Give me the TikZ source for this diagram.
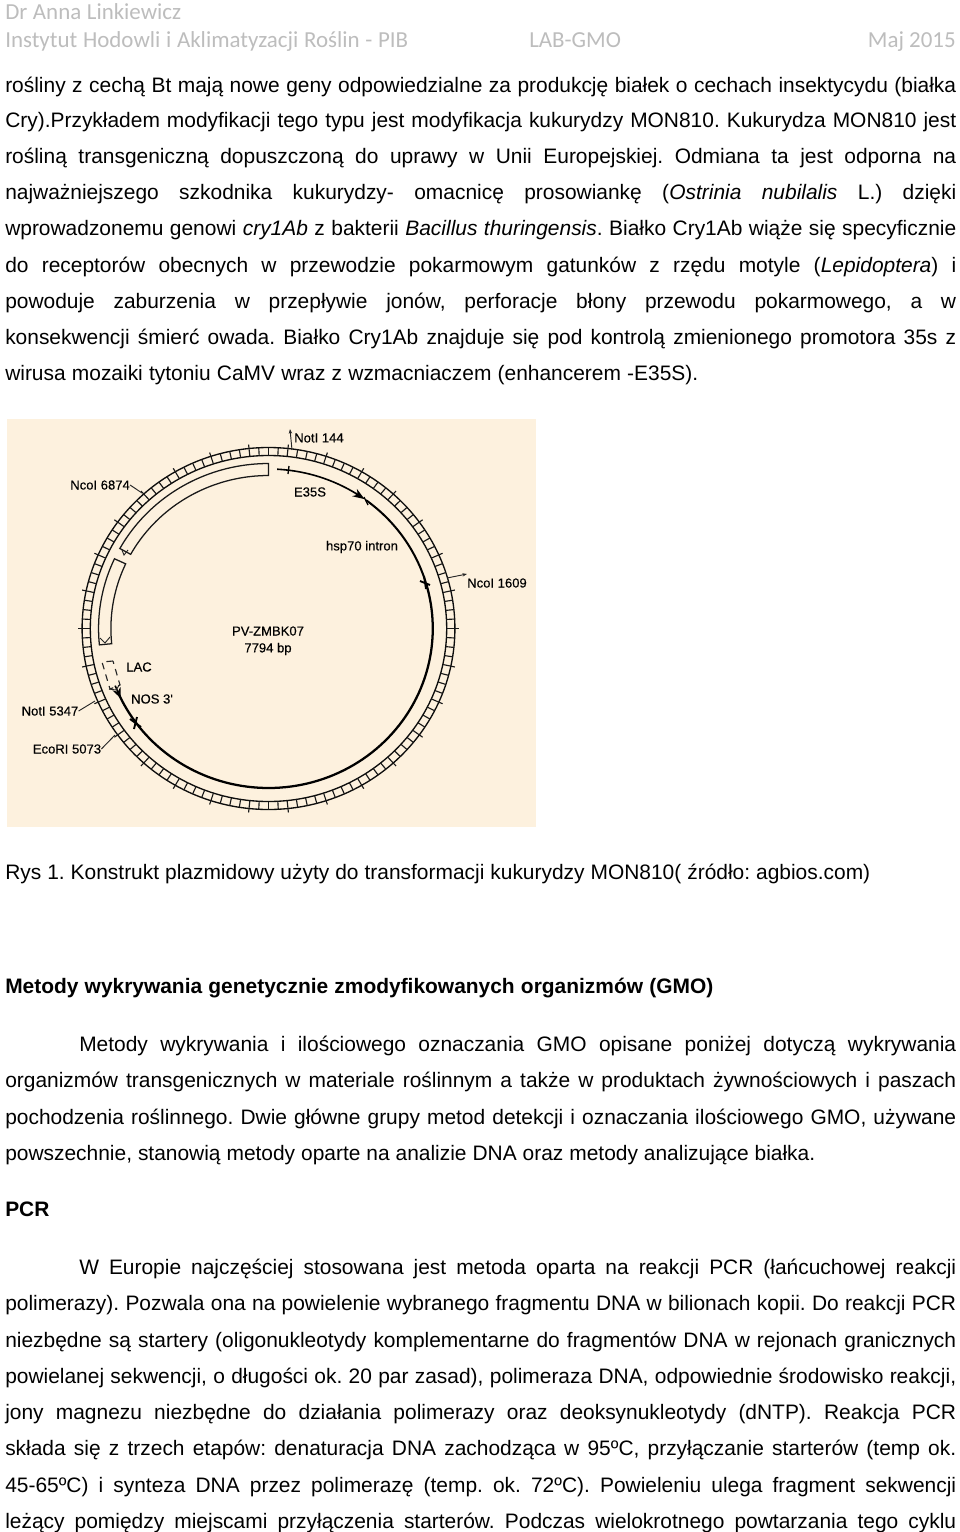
\documentclass[tikz,border=0pt]{standalone}
\usepackage{fontspec}
\setmainfont{Liberation Sans}
\newfontfamily\hdrfont{Carlito}
\newfontfamily\labfont[FakeBold=0.3]{Liberation Sans}
\usetikzlibrary{arrows.meta}
\frenchspacing
\newdimen\unitpx \unitpx=0.75pt
\definecolor{plasbg}{HTML}{FDF1DE}
\definecolor{hdrgray}{HTML}{BDBDBD}
\newcommand{\tl}[4]{\node[txt] (t#1) at (#2,#1+7) {\makebox[#3\unitpx][s]{#4}};}
\newcommand{\hl}[4]{\node[hdr] (h#1) at (#2,#1+7) {\makebox[#3\unitpx][s]{#4}};}
\tikzset{
  txt/.style={anchor=base west,inner sep=0pt,font=\fontsize{15.7}{18}\selectfont},
  hdr/.style={anchor=base west,inner sep=0pt,text=hdrgray,font=\hdrfont\fontsize{17.2}{18}\selectfont},
  lab/.style={inner sep=0pt,text=black,font=\labfont\fontsize{9.8}{11}\selectfont},
  ringline/.style={line width=1pt,black!95},
  tickline/.style={line width=0.85pt,black!90},
  boxline/.style={line width=0.95pt,black!90},
  lead/.style={line width=0.7pt,black!85},
  gene/.style={line width=1.7pt,black},
  crossmark/.style={line width=1.4pt,black},
  declare function={px(\a,\r)=268.5+1.03*\r*cos(\a);py(\a,\r)=628.5-\r*sin(\a);}
}
\begin{document}
\begin{tikzpicture}[x=0.75pt,y=-0.75pt]
\useasboundingbox (0,0) rectangle (960,1532);
\fill[white] (0,0) rectangle (960,1532);
% header
\hl{12}{5}{176}{Dr Anna Linkiewicz}
\hl{40}{5}{403}{Instytut Hodowli i Aklimatyzacji Roślin - PIB}
\node[hdr] (hlab) at (529,47) {LAB-GMO};
\node[hdr,anchor=base east] (hmaj) at (956,47) {Maj 2015};
% first paragraph
\tl{85}{5}{951}{rośliny z cechą Bt mają nowe geny odpowiedzialne za produkcję białek o cechach insektycydu (białka}
\tl{120}{5}{951}{Cry).Przykładem modyfikacji tego typu jest modyfikacja kukurydzy MON810. Kukurydza MON810 jest}
\tl{156}{5}{951}{rośliną transgeniczną dopuszczoną do uprawy w Unii Europejskiej. Odmiana ta jest odporna na}
\tl{192}{5}{951}{najważniejszego szkodnika kukurydzy- omacnicę prosowiankę (\textit{Ostrinia nubilalis} L.) dzięki}
\tl{228}{5}{951}{wprowadzonemu genowi \textit{cry1Ab} z bakterii \textit{Bacillus thuringensis}. Białko Cry1Ab wiąże się specyficznie}
\tl{265}{5}{951}{do receptorów obecnych w przewodzie pokarmowym gatunków z rzędu motyle (\textit{Lepidoptera}) i}
\tl{301}{5}{951}{powoduje zaburzenia w przepływie jonów, perforacje błony przewodu pokarmowego, a w}
\tl{337}{5}{951}{konsekwencji śmierć owada. Białko Cry1Ab znajduje się pod kontrolą zmienionego promotora 35s z}
\tl{373}{5}{693}{wirusa mozaiki tytoniu CaMV wraz z wzmacniaczem (enhancerem -E35S).}
% plasmid background
\fill[plasbg] (7,419) rectangle (536,827);
% ruler ring
\draw[ringline] (268.5,628.5) ellipse [x radius=186.4,y radius=181];
\draw[ringline] (268.5,628.5) ellipse [x radius=178.2,y radius=173];
\foreach \i in {0,...,119}{
  \pgfmathsetmacro{\ang}{\i*3}
  \draw[tickline] ({px(\ang,173)},{py(\ang,173)}) -- ({px(\ang,181)},{py(\ang,181)});
}
\foreach \i in {0,...,29}{
  \pgfmathsetmacro{\ang}{\i*12}
  \draw[tickline] ({px(\ang,181)},{py(\ang,181)}) -- ({px(\ang,185)},{py(\ang,185)});
}
% open boxes
\draw[boxline] plot[domain=90:151,samples=40] ({px(\x,165)},{py(\x,165)}) -- plot[domain=151:90,samples=40] ({px(\x,153)},{py(\x,153)}) -- cycle;
\draw[boxline] plot[domain=155:185.7,samples=25] ({px(\x,165)},{py(\x,165)}) -- plot[domain=185.7:155,samples=25] ({px(\x,153)},{py(\x,153)}) -- cycle;
\coordinate (va) at (100,638);
\coordinate (vb) at (105,643);
\coordinate (vc) at (110,637);
\draw[lead] (va) -- (vb) -- (vc);
\coordinate (xa) at (122,550);
\coordinate (xb) at (128,550);
\coordinate (xc) at (124,555);
\draw[lead] (xa) -- (xc) -- (xb);
% LAC dashed
\coordinate (la) at (102,662);
\coordinate (lb) at (113,661);
\coordinate (lc) at (120,685);
\coordinate (ld) at (110,689);
\draw[lead,line width=0.85pt,dash pattern=on 5pt off 4pt] (lb) -- (la) -- (ld) -- (lc) -- cycle;
% gene arcs
\draw[gene] plot[domain=204.5:376.7,samples=90] ({px(\x,159.5)},{py(\x,159.5)});
\draw[gene,line width=1.5pt] plot[domain=16.7:53.6,samples=30] ({px(\x,159.5)},{py(\x,159.5)});
\draw[line width=1.2pt,black] plot[domain=87:56,samples=30] ({px(\x,159.5)},{py(\x,159.5)});
\coordinate (arrE) at ({px(54.2,159.5)},{py(54.2,159.5)});
\coordinate (arrEs) at ({px(58,159.5)},{py(58,159.5)});
\draw[-{Stealth[length=9pt,width=6.5pt]},line width=1.2pt] (arrEs) -- (arrE);
\coordinate (arrN) at ({px(206,159.5)},{py(206,159.5)});
\coordinate (arrNs) at ({px(201,159.5)},{py(201,159.5)});
\draw[-{Stealth[length=8pt,width=6.5pt]},line width=1.2pt] (arrNs) -- (arrN);
% cross marks
\coordinate (m1a) at (420,581); \coordinate (m1b) at (430,585);
\coordinate (m1c) at (424,576); \coordinate (m1d) at (426,589);
\draw[crossmark] (m1a) -- (m1b); \draw[crossmark] (m1c) -- (m1d);
\coordinate (m2a) at (130,719); \coordinate (m2b) at (141,727);
\coordinate (m2c) at (137,717); \coordinate (m2d) at (134,729);
\draw[crossmark] (m2a) -- (m2b); \draw[crossmark] (m2c) -- (m2d);
\coordinate (m3a) at (364,497); \coordinate (m3b) at (368,505);
\draw[crossmark,line width=1pt] (m3a) -- (m3b);
\coordinate (m4a) at (289,466); \coordinate (m4b) at (288,474);
\draw[crossmark,line width=1pt] (m4a) -- (m4b);
% scissors at LAC/NOS
\coordinate (sa) at (109,689); \coordinate (sb) at (116,690);
\coordinate (sc) at (120,684);
\draw[lead] (sa) -- (sb) -- (sc);
% labels
\node[lab,anchor=west] (nco6874) at (70,485) {NcoI 6874};
\node[lab,anchor=west] (not144) at (294,438) {NotI 144};
\node[lab] (e35s) at (310,492) {E35S};
\node[lab] (hsp) at (362,547) {hsp70 intron};
\node[lab] (nco1609) at (497,583) {NcoI 1609};
\node[lab] (pv) at (268,631) {PV-ZMBK07};
\node[lab] (bp) at (268,649) {7794 bp};
\node[lab] (lac) at (139,667) {LAC};
\node[lab] (nos) at (152,699) {NOS 3'};
\node[lab] (not5347) at (50,711) {NotI 5347};
\node[lab] (eco) at (67,749) {EcoRI 5073};
% leaders
\coordinate (c6874) at (142,493);
\coordinate (c144a) at (292,450);
\coordinate (c144b) at (290,429);
\coordinate (c1609a) at (447,578);
\coordinate (c1609b) at (467,574);
\coordinate (c5347) at (95,701);
\coordinate (c5073) at (115,735);
\draw[lead] (nco6874.east) -- (c6874);
\draw[lead,-{Stealth[length=3.5pt,width=2.5pt]}] (c144a) -- (c144b);
\draw[lead,-{Stealth[length=3.5pt,width=2.5pt]}] (c1609a) -- (c1609b);
\draw[lead] (not5347.east) -- (c5347);
\draw[lead] (eco.east) -- (c5073);
% caption and text below
\tl{872}{5}{865}{Rys 1. Konstrukt plazmidowy użyty do transformacji kukurydzy MON810( źródło: agbios.com)}
\tl{986}{5}{708}{\bfseries Metody wykrywania genetycznie zmodyfikowanych organizmów (GMO)}
\tl{1044}{79}{877}{Metody wykrywania i ilościowego oznaczania GMO opisane poniżej dotyczą wykrywania}
\tl{1080}{5}{951}{organizmów transgenicznych w materiale roślinnym a także w produktach żywnościowych i paszach}
\tl{1117}{5}{951}{pochodzenia roślinnego. Dwie główne grupy metod detekcji i oznaczania ilościowego GMO, używane}
\tl{1153}{5}{810}{powszechnie, stanowią metody oparte na analizie DNA oraz metody analizujące białka.}
\tl{1209}{5}{43}{\bfseries PCR}
\tl{1267}{79}{877}{W Europie najczęściej stosowana jest metoda oparta na reakcji PCR (łańcuchowej reakcji}
\tl{1303}{5}{951}{polimerazy). Pozwala ona na powielenie wybranego fragmentu DNA w bilionach kopii. Do reakcji PCR}
\tl{1340}{5}{951}{niezbędne są startery (oligonukleotydy komplementarne do fragmentów DNA w rejonach granicznych}
\tl{1376}{5}{951}{powielanej sekwencji, o długości ok. 20 par zasad), polimeraza DNA, odpowiednie środowisko reakcji,}
\tl{1412}{5}{951}{jony magnezu niezbędne do działania polimerazy oraz deoksynukleotydy (dNTP). Reakcja PCR}
\tl{1448}{5}{951}{składa się z trzech etapów: denaturacja DNA zachodząca w 95ºC, przyłączanie starterów (temp ok.}
\tl{1485}{5}{951}{45-65ºC) i synteza DNA przez polimerazę (temp. ok. 72ºC). Powieleniu ulega fragment sekwencji}
\tl{1521}{5}{951}{leżący pomiędzy miejscami przyłączenia starterów. Podczas wielokrotnego powtarzania tego cyklu}
\end{tikzpicture}
\end{document}
